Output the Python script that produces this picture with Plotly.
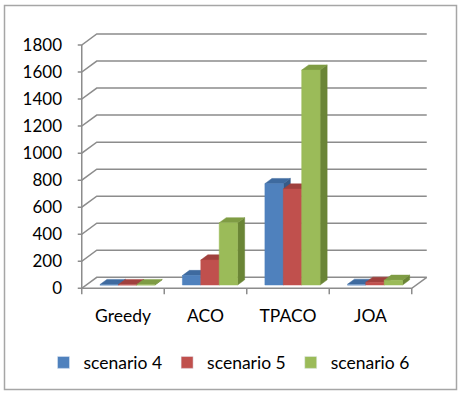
import plotly.graph_objects as go

categories = ["Greedy", "ACO", "TPACO", "JOA"]
series_names = ["scenario 4", "scenario 5", "scenario 6"]
scenario4 = [3, 70, 750, 5]
scenario5 = [3, 185, 710, 20]
scenario6 = [3, 460, 1590, 35]
y_ticks = [0, 200, 400, 600, 800, 1000, 1200, 1400, 1600, 1800]

series_values = [scenario4, scenario5, scenario6]
front_colors = ["#4F81BD", "#C0504D", "#9BBB59"]
top_colors = ["#3E6A9F", "#A0403D", "#7F9C44"]
side_colors = ["#375B88", "#8A3735", "#6A8536"]

W_PX, H_PX = 463, 406
# plot area in pixels
L, R, T, B = 70, 440, 28, 300
# front mapping: category center px and value px
CX0, CSTEP = 123.0, 82.5
Y0PX, YSCALE = 288.3, 243.3 / 1800.0

x_range = [(L - CX0) / CSTEP, (R - CX0) / CSTEP]
y_range = [(Y0PX - B) / YSCALE, (Y0PX - T) / YSCALE]

DX = 15.0 / CSTEP      # depth offset in x units
DY = 11.0 / YSCALE     # depth offset in value units
BW = 18.4 / CSTEP      # bar width
F0, F1 = 0.30, 0.77    # bar depth fractions
px_unit_x = 1.0 / CSTEP
px_unit_y = 1.0 / YSCALE

grid_color = "#8C8C8C"
fig = go.Figure()

# ----- axes frame (3D look) -----
gx, gy = [], []
x_left = -0.5
x_right = len(categories) - 0.5
for v in y_ticks:
    gx += [x_left - 4 * px_unit_x, x_left, x_left + DX, x_right + DX, None]
    gy += [v, v, v + DY, v + DY, None]
gx += [x_left, x_left, None]
gy += [0, y_ticks[-1], None]
gx += [x_left, x_right, x_right + DX, None]
gy += [0, 0, DY, None]
for k in range(len(categories) + 1):
    xv = x_left + k
    gx += [xv, xv, None]
    gy += [0, -6 * px_unit_y, None]

fig.add_trace(go.Scatter(x=gx, y=gy, mode="lines", line=dict(color=grid_color, width=1.5),
                         hoverinfo="skip", showlegend=False))

# ----- bars as 3D prisms -----
b0 = F0 * DY
ddx = (F1 - F0) * DX
ddy = (F1 - F0) * DY
for j, vals in enumerate(series_values):
    sx, sy, tx, ty, fx, fy = [], [], [], [], [], []
    for i, v in enumerate(vals):
        x0 = i + (j - 1) * BW - BW / 2 + F0 * DX
        x1 = x0 + BW
        top = v + b0
        sx += [x1, x1, x1 + ddx, x1 + ddx, x1, None]
        sy += [b0, top, top + ddy, b0 + ddy, b0, None]
        tx += [x0, x1, x1 + ddx, x0 + ddx, x0, None]
        ty += [top, top, top + ddy, top + ddy, top, None]
        fx += [x0, x1, x1, x0, x0, None]
        fy += [b0, b0, top, top, b0, None]
    for xs, ys, col in ((sx, sy, side_colors[j]), (tx, ty, top_colors[j]), (fx, fy, front_colors[j])):
        fig.add_trace(go.Scatter(x=xs, y=ys, mode="lines", fill="toself", fillcolor=col,
                                 line=dict(color=col, width=0.5), hoverinfo="skip",
                                 showlegend=False))

# legend-only entries
for j, name in enumerate(series_names):
    fig.add_trace(go.Bar(x=[None], y=[None], name=name, marker_color=front_colors[j]))


def px2paper(px, py):
    return (px - L) / (R - L), (B - py) / (B - T)


bx0, by0 = px2paper(4.5, 389.5)
bx1, by1 = px2paper(456.5, 5.5)
fig.add_shape(type="rect", xref="paper", yref="paper", x0=bx0, y0=by0, x1=bx1, y1=by1,
              line=dict(color="#A6A6A6", width=1.5), fillcolor="rgba(0,0,0,0)", layer="below")

lx, ly = px2paper(229, 362.5)
fig.update_layout(
    width=W_PX, height=H_PX,
    margin=dict(l=L, r=W_PX - R, t=T, b=H_PX - B),
    paper_bgcolor="white", plot_bgcolor="rgba(0,0,0,0)",
    font=dict(family="Lato, 'Open Sans', sans-serif", size=17.5, color="#000000"),
    barmode="overlay",
    xaxis=dict(range=x_range, tickvals=list(range(len(categories))), ticktext=categories,
               showgrid=False, zeroline=False, showline=False, ticks="", ticklabelstandoff=3,
               fixedrange=True),
    yaxis=dict(range=y_range, tickvals=y_ticks, ticktext=[str(v) for v in y_ticks],
               showgrid=False, zeroline=False, showline=False, ticks="", ticklabelstandoff=7,
               tickfont=dict(size=17), fixedrange=True),
    legend=dict(orientation="h", x=lx, y=ly, xanchor="center", yanchor="middle",
                font=dict(size=17.5), bgcolor="rgba(0,0,0,0)", itemclick=False),
    showlegend=True,
)

fig.write_html("out.html")
